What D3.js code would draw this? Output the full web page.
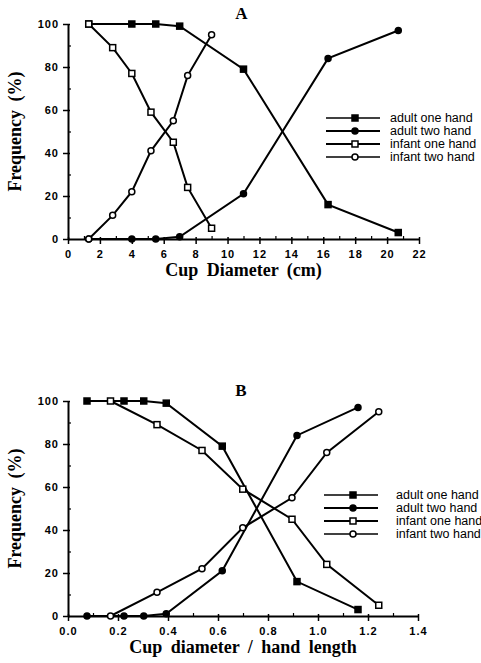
<!DOCTYPE html>
<html>
<head>
<meta charset="utf-8">
<script src="https://cdn.jsdelivr.net/npm/d3@7"></script>
<style>
  body { margin: 0; background: #fff; }
  .tick text { font-family: "Liberation Sans", Arial, sans-serif; font-weight: bold; font-size: 11px; letter-spacing: 1px; }
  .axisTitle { font-family: "Liberation Serif", "Times New Roman", serif; font-weight: bold; font-size: 18px; word-spacing: 4px; }
  .panelTitle { font-family: "Liberation Serif", "Times New Roman", serif; font-weight: bold; font-size: 17px; }
  .legendText { font-family: "Liberation Sans", Arial, sans-serif; }
</style>
</head>
<body>
<div id="chart"></div>
<script>
// series names
let seriesNames = ["adult one hand", "adult two hand", "infant one hand", "infant two hand"];

// panel A: cup diameter in cm
let adultDiamA = [1.3, 4.0, 5.5, 7.0, 11.0, 16.3, 20.7];
let infantDiamA = [1.3, 2.8, 4.0, 5.2, 6.6, 7.5, 9.0];

// panel B: cup diameter / hand length
let adultRatioB = [0.076, 0.224, 0.303, 0.393, 0.617, 0.916, 1.16];
let infantRatioB = [0.17, 0.356, 0.536, 0.699, 0.896, 1.035, 1.243];

// frequencies (%)
let adultOneFreq = [100, 100, 100, 99, 79, 16, 3];
let adultTwoFreq = [0, 0, 0, 1, 21, 84, 97];
let infantOneFreq = [100, 89, 77, 59, 45, 24, 5];
let infantTwoFreq = [0, 11, 22, 41, 55, 76, 95];

// tick values
let xTicksA = d3.range(0, 23, 2);
let xTicksB = [0.0, 0.2, 0.4, 0.6, 0.8, 1.0, 1.2, 1.4];
let yTicks = [0, 20, 40, 60, 80, 100];

let svgWidth = 481;
let svgHeight = 663;

let svg = d3.select("#chart")
    .append("svg")
    .attr("width", svgWidth)
    .attr("height", svgHeight);

function zip(xs, ys) {
    return xs.map((x, i) => ({x: x, y: ys[i]}));
}

function drawPanel(opt) {
    let g = svg.append("g")
        .attr("transform", `translate(${opt.left}, ${opt.top})`);

    let x = d3.scaleLinear().domain(opt.xDomain).range([0, opt.width]);
    let y = d3.scaleLinear().domain([0, 100]).range([opt.height, 0]);

    // minor ticks
    g.append("g")
        .attr("transform", `translate(0, ${opt.height})`)
        .call(d3.axisBottom(x).tickValues(opt.xMinor).tickSize(-3).tickFormat(""))
        .call(a => a.select(".domain").remove())
        .selectAll("line").attr("stroke-width", 1.2);

    g.append("g")
        .call(d3.axisLeft(y).tickValues(d3.range(10, 100, 20)).tickSize(-3).tickFormat(""))
        .call(a => a.select(".domain").remove())
        .selectAll("line").attr("stroke-width", 1.2);

    // major axes
    let xAxis = g.append("g")
        .attr("transform", `translate(0, ${opt.height})`)
        .call(d3.axisBottom(x).tickValues(opt.xTicks).tickSizeInner(5).tickSizeOuter(0).tickPadding(6).tickFormat(opt.xFormat));
    xAxis.select(".domain").attr("stroke-width", 2);
    xAxis.selectAll(".tick line").attr("y1", -2).attr("stroke-width", 1.5);

    let yAxis = g.append("g")
        .call(d3.axisLeft(y).tickValues(yTicks).tickSizeInner(5).tickSizeOuter(0).tickPadding(4));
    yAxis.select(".domain").attr("stroke-width", 2);
    yAxis.selectAll(".tick line").attr("x1", 2).attr("stroke-width", 1.5);

    let line = d3.line().x(d => x(d.x)).y(d => y(d.y));

    let series = [
        {data: zip(opt.adultX, adultTwoFreq), shape: "circle", fill: "#000"},
        {data: zip(opt.adultX, adultOneFreq), shape: "square", fill: "#000"},
        {data: zip(opt.infantX, infantOneFreq), shape: "square", fill: "#fff"},
        {data: zip(opt.infantX, infantTwoFreq), shape: "circle", fill: "#fff"}
    ];

    series.forEach(function(s) {
        g.append("path")
            .datum(s.data)
            .attr("d", line)
            .attr("fill", "none")
            .attr("stroke", "#000")
            .attr("stroke-width", 2);
    });

    series.forEach(function(s) {
        drawMarkers(g, s.data.map(d => [x(d.x), y(d.y)]), s.shape, s.fill);
    });

    // panel title
    svg.append("text")
        .attr("class", "panelTitle")
        .attr("x", opt.left + opt.width / 2 - 2)
        .attr("y", opt.top - 5)
        .attr("text-anchor", "middle")
        .text(opt.title);

    // axis titles
    svg.append("text")
        .attr("class", "axisTitle")
        .attr("transform", `translate(${opt.left + opt.width / 2}, ${opt.top + opt.height + 37})`)
        .attr("text-anchor", "middle")
        .text(opt.xLabel);

    svg.append("text")
        .attr("class", "axisTitle")
        .attr("transform", `translate(21, ${opt.top + opt.height / 2}) rotate(-90)`)
        .attr("text-anchor", "middle")
        .text("Frequency (%)");

    // legend
    let shapes = [["square", "#000"], ["circle", "#000"], ["square", "#fff"], ["circle", "#fff"]];
    let leg = svg.append("g")
        .attr("transform", `translate(${opt.legendX}, ${opt.legendY})`);
    seriesNames.forEach(function(name, i) {
        let ly = i * 13;
        leg.append("line")
            .attr("x1", 0).attr("x2", 54)
            .attr("y1", ly).attr("y2", ly)
            .attr("stroke", "#000")
            .attr("stroke-width", i == 1 || i == 2 ? 2 : 1.5);
        drawMarkers(leg, [[29, ly]], shapes[i][0], shapes[i][1]);
        leg.append("text")
            .attr("class", "legendText")
            .attr("x", opt.legendTextX)
            .attr("y", ly + 4)
            .style("font-size", opt.legendSize + "px")
            .text(name);
    });
}

function drawMarkers(g, pts, shape, fill) {
    if (shape == "square") {
        g.selectAll(null)
            .data(pts)
            .enter()
            .append("rect")
            .attr("x", d => d[0] - 3)
            .attr("y", d => d[1] - 3)
            .attr("width", 6)
            .attr("height", 6)
            .attr("fill", fill)
            .attr("stroke", "#000")
            .attr("stroke-width", 1.5);
    } else {
        g.selectAll(null)
            .data(pts)
            .enter()
            .append("circle")
            .attr("cx", d => d[0])
            .attr("cy", d => d[1])
            .attr("r", 3)
            .attr("fill", fill)
            .attr("stroke", "#000")
            .attr("stroke-width", 1.5);
    }
}

drawPanel({
    left: 68, top: 24, width: 351, height: 215,
    xDomain: [0, 22], xTicks: xTicksA, xMinor: d3.range(1, 22, 2),
    xFormat: d3.format("d"),
    adultX: adultDiamA, infantX: infantDiamA,
    title: "A", xLabel: "Cup Diameter (cm)",
    legendX: 326, legendY: 118, legendTextX: 64, legendSize: 12.5
});

drawPanel({
    left: 68, top: 401, width: 350, height: 215,
    xDomain: [0, 1.4], xTicks: xTicksB, xMinor: d3.range(0.1, 1.4, 0.2),
    xFormat: d3.format(".1f"),
    adultX: adultRatioB, infantX: infantRatioB,
    title: "B", xLabel: "Cup diameter / hand length",
    legendX: 324, legendY: 495, legendTextX: 72, legendSize: 12.5
});
</script>
</body>
</html>
